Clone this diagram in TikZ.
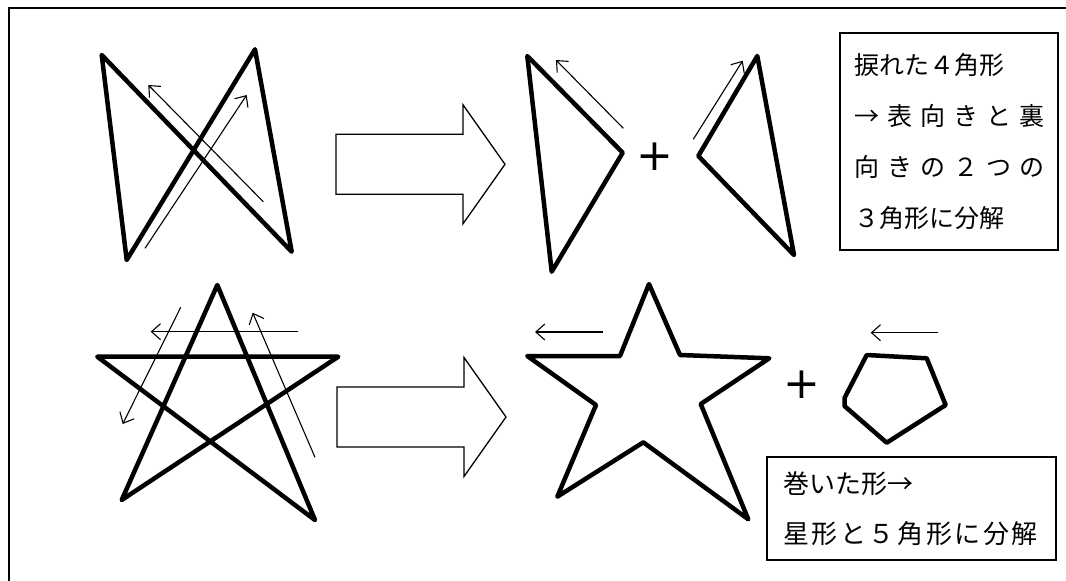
\documentclass[tikz,border=0pt]{standalone}
\usepackage{fontspec}
\newfontfamily\jpfont{Noto Sans CJK JP}
\newfontfamily\plusfont{DejaVu Sans}
\usetikzlibrary{arrows.meta}
\tikzset{thick line/.style={line width=4.5pt, line join=round, line cap=round},
 thin arrow/.style={line width=1.1pt, -{Straight Barb[length=9pt,width=16pt]}},
 block arrow/.style={line width=1.3pt},
 plus sign/.style={font=\plusfont\fontsize{44}{44}\selectfont, inner sep=0pt},
 note/.style={draw, line width=1.3pt, align=left},
 }

\begin{document}
\begin{tikzpicture}[x=1pt, y=-1pt]
        \useasboundingbox (0,0) rectangle (1066,581);
        \draw[line width=2.5pt] (1066,8) -- (9,8) -- (9,581);

        % twisted quadrilateral
        \draw[thick line] (101.7,55) -- (291.7,251.7) -- (255,49.3) -- (126.7,260) -- cycle;
        \coordinate (tw1a) at (263.3,201.7);
        \coordinate (tw1b) at (148.3,85);
        \coordinate (tw2a) at (145,248.3);
        \coordinate (tw2b) at (246.7,95);
        \draw[thin arrow] (tw1a) -- (tw1b);
        \draw[thin arrow] (tw2a) -- (tw2b);

        % block arrows
        \foreach \x/\y in {336/164.3, 337/417} {
            \draw[block arrow] (\x, \y-30) -- (\x+127, \y-30) -- (\x+127, \y-59.5) -- (\x+169, \y)
                -- (\x+127, \y+59.5) -- (\x+127, \y+30) -- (\x, \y+30) -- cycle;
        }

        % two triangles
        \draw[thick line] (527.3,56) -- (622.7,152.7) -- (551.7,271.7) -- cycle;
        \draw[thick line] (757.3,56) -- (698.3,156) -- (794,255) -- cycle;
        \coordinate (tr1a) at (623.3,128.3);
        \coordinate (tr1b) at (556,60);
        \coordinate (tr2a) at (693.3,139.3);
        \coordinate (tr2b) at (742.7,60.7);
        \draw[thin arrow] (tr1a) -- (tr1b);
        \draw[thin arrow] (tr2a) -- (tr2b);
        \node[plus sign] (plus1) at (655,157) {+};

        \node[note, text width=190pt, inner xsep=14pt, minimum height=217pt,
            font=\jpfont\fontsize{25}{51}\selectfont] (note1) at (949,141.5)
            {捩れた４角形\\
             \makebox[190pt][s]{→\hfil 表\hfil 向\hfil き\hfil と\hfil 裏}\\
             \makebox[190pt][s]{向\hfil き\hfil の\hfil ２\hfil つ\hfil の}\\
             ３角形に分解};

        % pentagram
        \draw[thick line] (217.3,285) -- (121.7,500) -- (338.3,356.7) -- (97.3,356.7) -- (315,520) -- cycle;
        \coordinate (pg1a) at (298.3,331.7);
        \coordinate (pg1b) at (150.7,331.7);
        \coordinate (pg2a) at (180.7,307.3);
        \coordinate (pg2b) at (122.7,424);
        \coordinate (pg3a) at (315,457.3);
        \coordinate (pg3b) at (252.7,312.7);
        \draw[thin arrow] (pg1a) -- (pg1b);
        \draw[thin arrow] (pg2a) -- (pg2b);
        \draw[thin arrow] (pg3a) -- (pg3b);

        % star and pentagon
        \draw[thick line] (649,284) -- (680,355) -- (769.3,358.3) -- (700.7,404) -- (748.3,519.3)
            -- (643.3,442.3) -- (557.3,496.7) -- (596,405) -- (527.3,356) -- (620,356) -- cycle;
        \draw[thick line] (866.7,355) -- (926.7,358.3) -- (945.7,405) -- (886.7,442.7) -- (844.5,406) -- (844.5,398) -- cycle;
        \coordinate (st1a) at (603.3,332);
        \coordinate (st1b) at (535,332);
        \coordinate (pn1a) at (938.3,332.7);
        \coordinate (pn1b) at (870.7,332.7);
        \draw[thin arrow] (st1a) -- (st1b);
        \draw[thin arrow] (pn1a) -- (pn1b);
        \node[plus sign] (plus2) at (801.7,385) {+};

        \node[note, text width=257pt, inner xsep=16pt, minimum height=103pt,
            font=\jpfont\fontsize{26}{50}\selectfont] (note2) at (911.5,508.5)
            {巻いた形→\\
             \makebox[255pt][s]{星\hfil 形\hfil と\hfil ５\hfil 角\hfil 形\hfil に\hfil 分\hfil 解}};
    \end{tikzpicture}
\end{document}
